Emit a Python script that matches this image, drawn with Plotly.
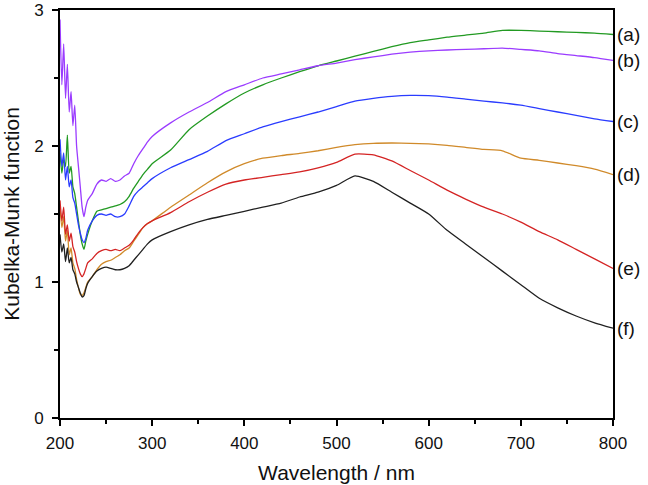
import plotly.graph_objects as go

wavelength = [200, 202, 204, 206, 208, 210, 212, 214, 216, 218, 220, 222, 224, 226, 228, 230,
              235, 240, 245, 250, 255, 260, 265, 270, 275, 280, 285, 290, 295, 300,
              320, 340, 360, 380, 400, 420, 440, 460, 480, 500, 520, 540, 560, 580, 600,
              620, 640, 660, 680, 700, 720, 740, 760, 780, 800]

km_a = [1.95, 1.80, 1.90, 1.85, 2.08, 1.80, 1.85, 1.70, 1.65, 1.55, 1.45, 1.35, 1.28, 1.24, 1.30, 1.35,
        1.45, 1.52, 1.53, 1.54, 1.55, 1.56, 1.57, 1.59, 1.63, 1.69, 1.74, 1.79, 1.83, 1.87,
        1.97, 2.12, 2.22, 2.31, 2.39, 2.45, 2.50, 2.546, 2.59, 2.625, 2.66, 2.695, 2.73, 2.76, 2.78,
        2.80, 2.815, 2.83, 2.85, 2.85, 2.845, 2.84, 2.835, 2.83, 2.82]
km_b = [2.93, 2.45, 2.75, 2.35, 2.60, 2.25, 2.40, 2.15, 2.30, 2.00, 1.85, 1.70, 1.55, 1.48, 1.55, 1.60,
        1.65, 1.72, 1.75, 1.74, 1.76, 1.74, 1.75, 1.78, 1.80, 1.87, 1.93, 1.98, 2.03, 2.07,
        2.17, 2.25, 2.32, 2.40, 2.45, 2.50, 2.53, 2.56, 2.59, 2.61, 2.635, 2.655, 2.675, 2.69, 2.70,
        2.706, 2.71, 2.715, 2.72, 2.71, 2.70, 2.68, 2.665, 2.65, 2.63]
km_c = [2.05, 1.85, 1.95, 1.75, 1.85, 1.70, 1.75, 1.62, 1.58, 1.50, 1.42, 1.36, 1.31, 1.29, 1.32, 1.38,
        1.45, 1.49, 1.50, 1.49, 1.50, 1.48, 1.48, 1.50, 1.56, 1.63, 1.67, 1.70, 1.73, 1.76,
        1.84, 1.90, 1.96, 2.04, 2.09, 2.14, 2.18, 2.215, 2.25, 2.29, 2.33, 2.35, 2.365, 2.372, 2.37,
        2.36, 2.345, 2.33, 2.317, 2.30, 2.275, 2.25, 2.225, 2.20, 2.18]
km_d = [1.55, 1.40, 1.48, 1.30, 1.38, 1.20, 1.25, 1.14, 1.10, 1.02, 0.96, 0.91, 0.90, 0.92, 0.96, 1.00,
        1.04, 1.09, 1.13, 1.15, 1.16, 1.18, 1.20, 1.23, 1.25, 1.30, 1.35, 1.40, 1.43, 1.45,
        1.55, 1.64, 1.73, 1.81, 1.87, 1.91, 1.93, 1.945, 1.965, 1.99, 2.01, 2.02, 2.022, 2.02, 2.015,
        2.005, 1.99, 1.975, 1.965, 1.91, 1.895, 1.875, 1.855, 1.83, 1.79]
km_e = [1.60, 1.45, 1.55, 1.35, 1.42, 1.30, 1.36, 1.26, 1.22, 1.15, 1.10, 1.06, 1.04, 1.06, 1.10, 1.14,
        1.17, 1.21, 1.23, 1.24, 1.23, 1.24, 1.23, 1.25, 1.27, 1.31, 1.36, 1.40, 1.43, 1.45,
        1.51, 1.59, 1.66, 1.72, 1.75, 1.77, 1.79, 1.81, 1.84, 1.88, 1.94, 1.935, 1.89, 1.82, 1.75,
        1.675, 1.61, 1.55, 1.50, 1.44, 1.37, 1.31, 1.24, 1.17, 1.10]
km_f = [1.35, 1.22, 1.28, 1.15, 1.25, 1.14, 1.18, 1.09, 1.06, 1.00, 0.96, 0.92, 0.89, 0.90, 0.95, 0.99,
        1.04, 1.08, 1.10, 1.11, 1.10, 1.09, 1.09, 1.10, 1.12, 1.16, 1.20, 1.24, 1.28, 1.31,
        1.37, 1.42, 1.46, 1.49, 1.52, 1.55, 1.58, 1.625, 1.66, 1.71, 1.78, 1.74, 1.66, 1.58, 1.50,
        1.38, 1.28, 1.18, 1.08, 0.98, 0.88, 0.81, 0.75, 0.70, 0.66]

labels = ["(a)", "(b)", "(c)", "(d)", "(e)", "(f)"]
series = [km_a, km_b, km_c, km_d, km_e, km_f]
colors = ["#229a22", "#9b3cff", "#2a3cff", "#d08a2a", "#d42424", "#202020"]

fig = go.Figure()
for lab, ys, col in zip(labels, series, colors):
    fig.add_trace(go.Scatter(x=wavelength, y=ys, mode="lines", name=lab,
                             line=dict(color=col, width=1.3, shape="spline", smoothing=0.5)))
    fig.add_annotation(x=1.0, xref="paper", y=ys[-1], yref="y", text=lab,
                       showarrow=False, xanchor="left", xshift=2,
                       font=dict(size=19, color="#111111"))

font_family = "Liberation Sans, Arial, sans-serif"
fig.update_layout(
    width=648, height=485,
    margin=dict(l=60, r=35, t=10, b=67),
    plot_bgcolor="white", paper_bgcolor="white",
    showlegend=False,
    font=dict(family=font_family, size=17, color="#111111"),
)
fig.update_xaxes(range=[200, 800], tickmode="linear", tick0=200, dtick=100,
                 ticks="outside", ticklen=6, tickwidth=1.5, tickcolor="black",
                 minor=dict(ticks="outside", dtick=50, ticklen=4, tickcolor="black", tickwidth=1.5),
                 showline=True, linecolor="black", linewidth=1.6, mirror=True,
                 showgrid=False, zeroline=False, automargin=False, ticklabelstandoff=3,
                 title=dict(text="Wavelength / nm", font=dict(size=21), standoff=13),
                 tickfont=dict(size=17))
fig.update_yaxes(range=[0, 3], tickmode="linear", tick0=0, dtick=1,
                 ticks="outside", ticklen=6, tickwidth=1.5, tickcolor="black",
                 minor=dict(ticks="outside", dtick=0.5, ticklen=4, tickcolor="black", tickwidth=1.5),
                 showline=True, linecolor="black", linewidth=1.6, mirror=True,
                 showgrid=False, zeroline=False, automargin=False, ticklabelstandoff=5,
                 title=dict(text="Kubelka-Munk function", font=dict(size=21), standoff=23),
                 tickfont=dict(size=17))

fig.write_html("out.html", config={"displayModeBar": False},
               post_script="document.body.style.margin='0';")
